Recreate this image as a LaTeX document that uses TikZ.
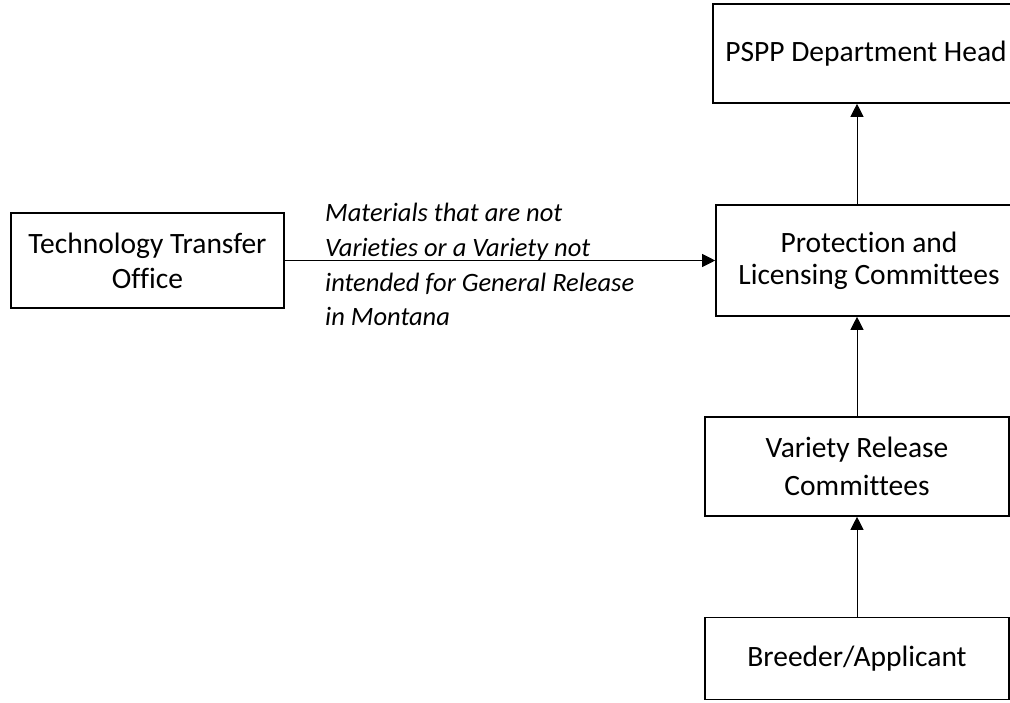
\documentclass[tikz,border=0pt]{standalone}
\usepackage{fontspec}
\setmainfont[Ligatures=NoCommon]{Carlito}
\usetikzlibrary{arrows.meta}

\begin{document}
\begin{tikzpicture}[x=1pt,y=1pt]
      \tikzstyle{every node}+=[inner sep=0pt]
      \tikzstyle{box}=[draw=black, line width=1.6pt, align=center, font=\fontsize{29.5}{32}\selectfont]
      \tikzstyle{link}=[black, line width=1pt, -{Triangle[length=13pt,width=13pt]}]
      \useasboundingbox (0,0) rectangle (1010,-702);
      \clip (0,0) rectangle (1010,-702);
      \node [box, minimum width=306pt, minimum height=99pt] (pspp) at (866,-53.5) {PSPP Department Head};
      \node [box, minimum width=306pt, minimum height=111pt] (prot) at (869,-260.5) {Protection and\\Licensing Committees};
      \node [box, minimum width=304pt, minimum height=99pt, font=\fontsize{29.5}{38}\selectfont] (variety) at (857,-466.5) {Variety Release\\Committees};
      \node [box, minimum width=304pt, minimum height=82pt] (breeder) at (857,-658.5) {Breeder/Applicant};
      \node [box, minimum width=273pt, minimum height=95pt, font=\fontsize{29.5}{35}\selectfont] (tto) at (147.5,-260.5) {Technology Transfer\\Office};
      \node [anchor=north west, align=left, font=\fontsize{26.5}{34.7}\selectfont\itshape] (note) at (325,-203) {Materials that are not\\Varieties or a Variety not\\intended for General Release\\in Montana};
      \draw [link] (tto.east) -- (prot.west);
      \draw [link] (breeder.north) -- (variety.south);
      \draw [link] (variety.north) -- (variety.north |- prot.south);
      \draw [link] (variety.north |- prot.north) -- (variety.north |- pspp.south);
\end{tikzpicture}
\end{document}
